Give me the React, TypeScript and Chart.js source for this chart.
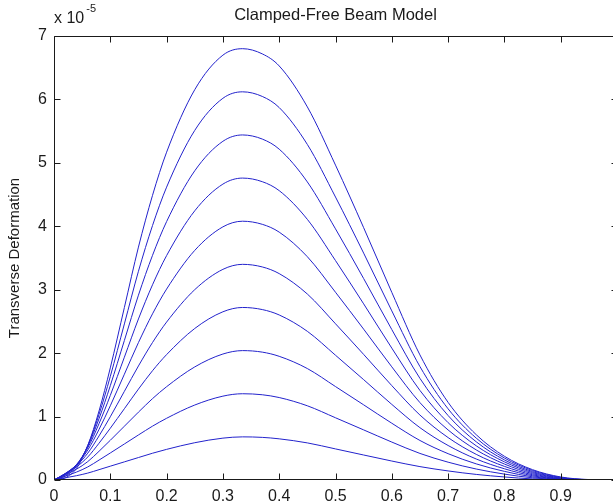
import { useEffect, useRef } from "react";
import { Chart, registerables } from "chart.js";

Chart.register(...registerables);

// Positions along the beam (normalized length)
const beamPositions = [0, 0.02, 0.04, 0.06, 0.08, 0.1, 0.125, 0.15, 0.175, 0.2, 0.25, 0.3, 0.335, 0.37, 0.4, 0.45, 0.5, 0.55, 0.6, 0.65, 0.7, 0.75, 0.8, 0.85, 0.9, 0.95, 1];

// Transverse deformation, in units of 1e-5
const deform1 = [0, 0.034, 0.068, 0.109, 0.163, 0.218, 0.286, 0.354, 0.422, 0.483, 0.588, 0.66, 0.68, 0.672, 0.649, 0.585, 0.49, 0.394, 0.299, 0.211, 0.143, 0.088, 0.048, 0.017, 0.003, 0, 0];
const deform2 = [0, 0.061, 0.125, 0.206, 0.314, 0.426, 0.568, 0.71, 0.849, 0.973, 1.182, 1.322, 1.36, 1.344, 1.3, 1.17, 0.981, 0.79, 0.598, 0.419, 0.281, 0.173, 0.093, 0.034, 0.006, 0, 0];
const deform3 = [0, 0.082, 0.171, 0.29, 0.453, 0.626, 0.848, 1.07, 1.283, 1.471, 1.783, 1.986, 2.04, 2.016, 1.95, 1.757, 1.473, 1.185, 0.895, 0.623, 0.415, 0.254, 0.136, 0.05, 0.01, 0, 0];
const deform4 = [0, 0.095, 0.206, 0.363, 0.58, 0.816, 1.124, 1.433, 1.723, 1.977, 2.389, 2.652, 2.72, 2.687, 2.602, 2.344, 1.967, 1.582, 1.192, 0.825, 0.544, 0.331, 0.177, 0.067, 0.014, 0.001, 0];
const deform5 = [0, 0.102, 0.23, 0.423, 0.695, 0.997, 1.398, 1.798, 2.168, 2.49, 3.001, 3.321, 3.4, 3.359, 3.254, 2.932, 2.463, 1.98, 1.488, 1.024, 0.669, 0.404, 0.215, 0.083, 0.018, 0.001, 0];
const deform6 = [0, 0.102, 0.242, 0.472, 0.798, 1.17, 1.668, 2.167, 2.62, 3.01, 3.62, 3.991, 4.08, 4.031, 3.908, 3.52, 2.96, 2.378, 1.784, 1.22, 0.789, 0.474, 0.252, 0.1, 0.023, 0.002, 0];
const deform7 = [0, 0.095, 0.244, 0.508, 0.889, 1.333, 1.936, 2.539, 3.078, 3.538, 4.244, 4.665, 4.76, 4.703, 4.562, 4.109, 3.459, 2.777, 2.079, 1.412, 0.904, 0.539, 0.286, 0.117, 0.029, 0.003, 0];
const deform8 = [0, 0.082, 0.235, 0.532, 0.967, 1.487, 2.2, 2.914, 3.542, 4.074, 4.875, 5.34, 5.44, 5.375, 5.216, 4.699, 3.959, 3.176, 2.372, 1.602, 1.016, 0.602, 0.317, 0.133, 0.034, 0.004, 0];
const deform9 = [0, 0.061, 0.215, 0.544, 1.034, 1.632, 2.461, 3.291, 4.012, 4.617, 5.512, 6.018, 6.12, 6.047, 5.872, 5.29, 4.461, 3.577, 2.666, 1.788, 1.122, 0.66, 0.347, 0.15, 0.041, 0.005, 0];
const deform10 = [0, 0.034, 0.184, 0.544, 1.088, 1.768, 2.72, 3.672, 4.488, 5.168, 6.154, 6.698, 6.8, 6.718, 6.528, 5.882, 4.964, 3.978, 2.958, 1.972, 1.224, 0.714, 0.374, 0.163, 0.048, 0.007, 0];

const allSeries = [deform1, deform2, deform3, deform4, deform5, deform6, deform7, deform8, deform9, deform10];

const xTickLabels = ["0", "0.1", "0.2", "0.3", "0.4", "0.5", "0.6", "0.7", "0.8", "0.9", "1"];
const yTickLabels = ["0", "1", "2", "3", "4", "5", "6", "7"];

const titleText = "Clamped-Free Beam Model";
const yAxisTitle = "Transverse Deformation";
const exponentBase = "x 10";
const exponentPower = "-5";

const FONT = "'Liberation Sans', Arial, Helvetica, sans-serif";
const LINE_COLOR = "#2222cc";
const INK = "#1a1a1a";

const framePlugin = {
  id: "matlabFrame",
  afterDraw(chart: any) {
    const { ctx, chartArea: a, scales } = chart;
    const xs = scales.x;
    const ys = scales.y;
    const L = Math.round(a.left) + 0.5;
    const R = Math.round(a.right) + 0.5;
    const T = Math.round(a.top) + 0.5;
    const B = Math.round(a.bottom) - 0.5;
    const tl = 6;
    ctx.save();
    ctx.strokeStyle = INK;
    ctx.lineWidth = 1;
    ctx.beginPath();
    ctx.rect(L, T, R - L, B - T);
    for (let i = 0; i < xTickLabels.length; i++) {
      const px = Math.round(xs.getPixelForValue(i / 10)) + 0.5;
      ctx.moveTo(px, B);
      ctx.lineTo(px, B - tl);
      ctx.moveTo(px, T);
      ctx.lineTo(px, T + tl);
    }
    for (let i = 0; i < yTickLabels.length; i++) {
      const py = Math.round(ys.getPixelForValue(i)) + 0.5;
      ctx.moveTo(L, py);
      ctx.lineTo(L + tl, py);
      ctx.moveTo(R, py);
      ctx.lineTo(R - tl, py);
    }
    ctx.stroke();

    ctx.fillStyle = INK;
    ctx.textAlign = "center";
    ctx.textBaseline = "alphabetic";
    ctx.font = `16.5px ${FONT}`;
    ctx.fillText(titleText, (a.left + a.right) / 2, 20);

    ctx.textAlign = "left";
    ctx.font = `16px ${FONT}`;
    ctx.fillText(exponentBase, 54, 23);
    const w = ctx.measureText(exponentBase).width;
    ctx.font = `11px ${FONT}`;
    ctx.fillText(exponentPower, 54 + w + 2, 12);
    ctx.restore();
  },
};

export default function App() {
  const canvasRef = useRef<HTMLCanvasElement | null>(null);

  useEffect(() => {
    const canvas = canvasRef.current;
    if (!canvas) return;
    const datasets = allSeries.map((series, idx) => ({
      label: `t${idx + 1}`,
      data: beamPositions.map((x, i) => ({ x, y: series[i] })),
      borderColor: LINE_COLOR,
      backgroundColor: LINE_COLOR,
      borderWidth: 1,
      pointRadius: 0,
      fill: false,
      cubicInterpolationMode: "monotone" as const,
    }));

    const chart = new Chart(canvas, {
      type: "line",
      data: { datasets },
      options: {
        animation: false,
        responsive: false,
        devicePixelRatio: 1,
        layout: { padding: { top: 36, right: 23, left: 0, bottom: 0 } },
        plugins: {
          legend: { display: false },
          tooltip: { enabled: false },
          title: { display: false },
        },
        scales: {
          x: {
            type: "linear",
            min: 0,
            max: 1,
            grid: { display: false, drawTicks: false },
            border: { display: false },
            ticks: {
              stepSize: 0.1,
              autoSkip: false,
              maxRotation: 0,
              padding: 7,
              color: INK,
              font: { family: FONT, size: 16 },
              callback: (_v: any, i: number) => xTickLabels[i],
            },
            afterFit: (s: any) => {
              s.height = 24;
            },
          },
          y: {
            type: "linear",
            min: 0,
            max: 7,
            grid: { display: false, drawTicks: false },
            border: { display: false },
            ticks: {
              stepSize: 1,
              autoSkip: false,
              padding: 7,
              color: INK,
              font: { family: FONT, size: 16 },
              callback: (_v: any, i: number) => yTickLabels[i],
            },
            title: {
              display: true,
              text: yAxisTitle,
              color: INK,
              font: { family: FONT, size: 15 },
              padding: { top: 6, bottom: 0 },
            },
            afterFit: (s: any) => {
              s.width = 54;
            },
          },
        },
      },
      plugins: [framePlugin],
    });
    return () => chart.destroy();
  }, []);

  return (
    <div
      style={{
        position: "fixed",
        left: 0,
        top: 0,
        width: 613,
        height: 504,
        overflow: "hidden",
        background: "#ffffff",
      }}
    >
      <canvas ref={canvasRef} width={640} height={504} style={{ display: "block" }} />
    </div>
  );
}
